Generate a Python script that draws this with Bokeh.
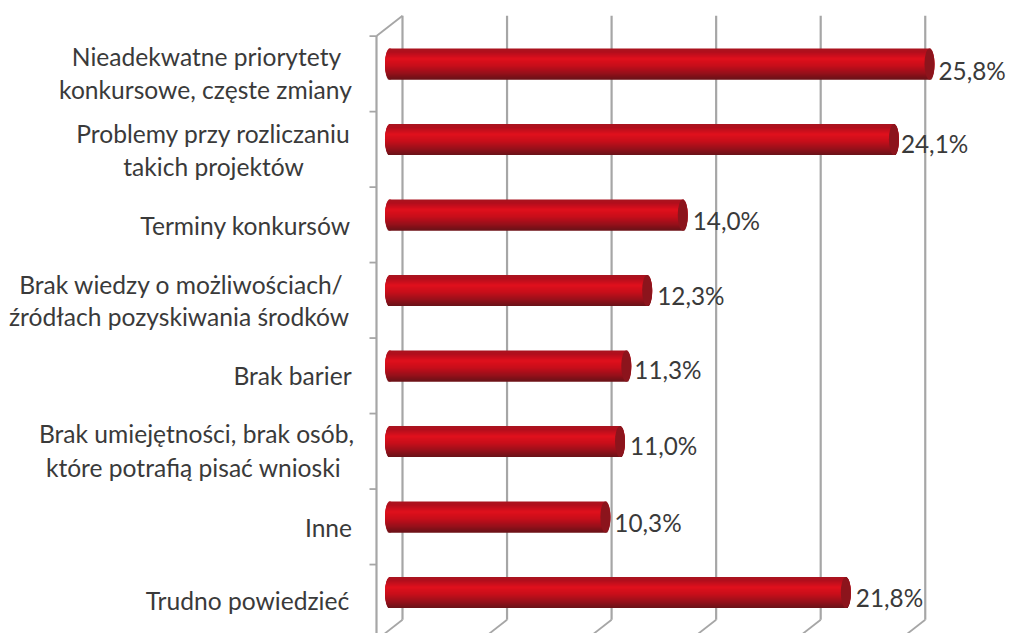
from bokeh.plotting import figure
from bokeh.models import Range1d
from bokeh.core.properties import value as V
from bokeh.embed import file_html
from bokeh.resources import INLINE
import math

categories = ["Nieadekwatne priorytety konkursowe, częste zmiany",
              "Problemy przy rozliczaniu takich projektów",
              "Terminy konkursów",
              "Brak wiedzy o możliwościach/ źródłach pozyskiwania środków",
              "Brak barier",
              "Brak umiejętności, brak osób, które potrafią pisać wnioski",
              "Inne",
              "Trudno powiedzieć"]
values = [25.8, 24.1, 14.0, 12.3, 11.3, 11.0, 10.3, 21.8]
value_labels = ["25,8%", "24,1%", "14,0%", "12,3%", "11,3%", "11,0%", "10,3%", "21,8%"]
label_lines = [["Nieadekwatne priorytety", "konkursowe, częste zmiany"],
               ["Problemy przy rozliczaniu", "takich projektów"],
               ["Terminy konkursów"],
               ["Brak wiedzy o możliwościach/", "źródłach pozyskiwania środków"],
               ["Brak barier"],
               ["Brak umiejętności, brak osób,", "które potrafią pisać wnioski"],
               ["Inne"],
               ["Trudno powiedzieć"]]
grid_ticks = [0, 5, 10, 15, 20, 25]

# layout (pixel offsets, styles)
label_dx = [[-183.5, -184.5], [-176.5, -176.5], [-144.5],
            [-208.5, -211], [-97.5], [-193.5, -196.5], [-61.5], [-142.5]]
label_dy = [[-8, 25], [-6, 27], [10], [-6, 26], [9], [-8, 26], [10], [8]]
val_dx = [4, 2, 5, 5, 3, 5, 4, 5]
val_dy = [6, 4, 5, 5, 3, 4, 5, 5]

X0, K, Y0, DY = 389.5, 20.91, 63.5, 75.5   # figure px of value 0, px/unit, px of row 0, px/row
W, H = 1019, 633
LINE = "#a6a6a6"
TXT = "#3a3a3a"
FONT = "Lato"
FS, VFS = "24.6px", "24.3px"

p = figure(width=W, height=H, output_backend="svg", toolbar_location=None,
           x_range=Range1d(-X0 / K, (W - X0) / K),
           y_range=Range1d((H - Y0) / DY, -Y0 / DY),
           min_border=0, outline_line_color=None, background_fill_color="white",
           border_fill_color="white", x_axis_location=None, y_axis_location=None)
p.grid.visible = False

n = len(values)
back_x, front_x = 12.5 / K, -13.5 / K
back_d, front_d = -0.14, 0.13
top, bottom = -0.5, n - 0.5

# back wall gridlines
xs = [t + back_x for t in grid_ticks]
p.segment(xs, [top + back_d] * 6, xs, [bottom + back_d] * 6, line_color=LINE, line_width=2.2)
# floor diagonals
p.segment(xs, [bottom + back_d] * 6, [t + front_x for t in grid_ticks],
          [bottom + front_d] * 6, line_color=LINE, line_width=1.8)
# corner
p.segment([front_x], [top + front_d], [back_x], [top + back_d], line_color=LINE, line_width=1.8)
# front axis and ticks
p.segment([front_x], [top + front_d], [front_x], [bottom + front_d], line_color=LINE, line_width=2.2)
tick_y = [i - 0.5 + front_d for i in range(n + 1)]
p.segment([front_x - 7 / K] * (n + 1), tick_y, [front_x] * (n + 1), tick_y,
          line_color=LINE, line_width=1.8)

# shaded cylinders: opaque strips, each overlapping the next so no white shows through
stops = [(0.0, (168, 20, 32)), (0.12, (178, 14, 28)), (0.33, (224, 16, 28)),
         (0.55, (200, 14, 26)), (0.8, (150, 16, 26)), (1.0, (104, 18, 24))]
def shade(f):
    for (a, ca), (b, cb) in zip(stops, stops[1:]):
        if f <= b:
            u = (f - a) / (b - a)
            return "#%02x%02x%02x" % tuple(round(x + (y - x) * u) for x, y in zip(ca, cb))
    return "#%02x%02x%02x" % stops[-1][1]

STRIPS = 31
half = 15.5 / DY
step = 2 * half / STRIPS
cap_r, cap_l = 5 / K, 5 / K
rows = list(range(n))
p.ellipse(x=[0] * n, y=rows, width=2 * cap_l, height=2 * half, fill_color="#b81019", line_color=None)
lefts, rights, ys, hs, cols = [], [], [], [], []
for i, v in enumerate(values):
    for s in range(STRIPS):
        f = (s + 0.5) / STRIPS
        t = 2 * f - 1
        w = math.sqrt(max(0, 1 - t * t))
        y_top = i - half + s * step
        y_bot = min(y_top + 2 * step, i + half)
        lefts.append(-cap_l * w)
        rights.append(v + cap_r * w)
        ys.append((y_top + y_bot) / 2)
        hs.append(y_bot - y_top)
        cols.append(shade(f))
p.hbar(y=ys, left=lefts, right=rights, height=hs, fill_color=cols, line_color=None, fill_alpha=1)

# right end caps
p.ellipse(x=values, y=rows, width=2 * cap_r, height=2 * half,
          fill_color="#8c141c", line_color=None)

# value labels
p.text(x=[v + cap_r for v in values], y=rows, text=value_labels,
       x_offset=val_dx, y_offset=val_dy, text_font=V(FONT), text_font_size=VFS,
       text_color=TXT, text_align="left", text_baseline="middle")

# category labels
for i, lines in enumerate(label_lines):
    p.text(x=[0] * len(lines), y=[i] * len(lines), text=lines,
           x_offset=label_dx[i], y_offset=label_dy[i], text_font=V(FONT),
           text_font_size=FS, text_color=TXT, text_align="center", text_baseline="middle")

open("out.html", "w").write(file_html(p, INLINE))
